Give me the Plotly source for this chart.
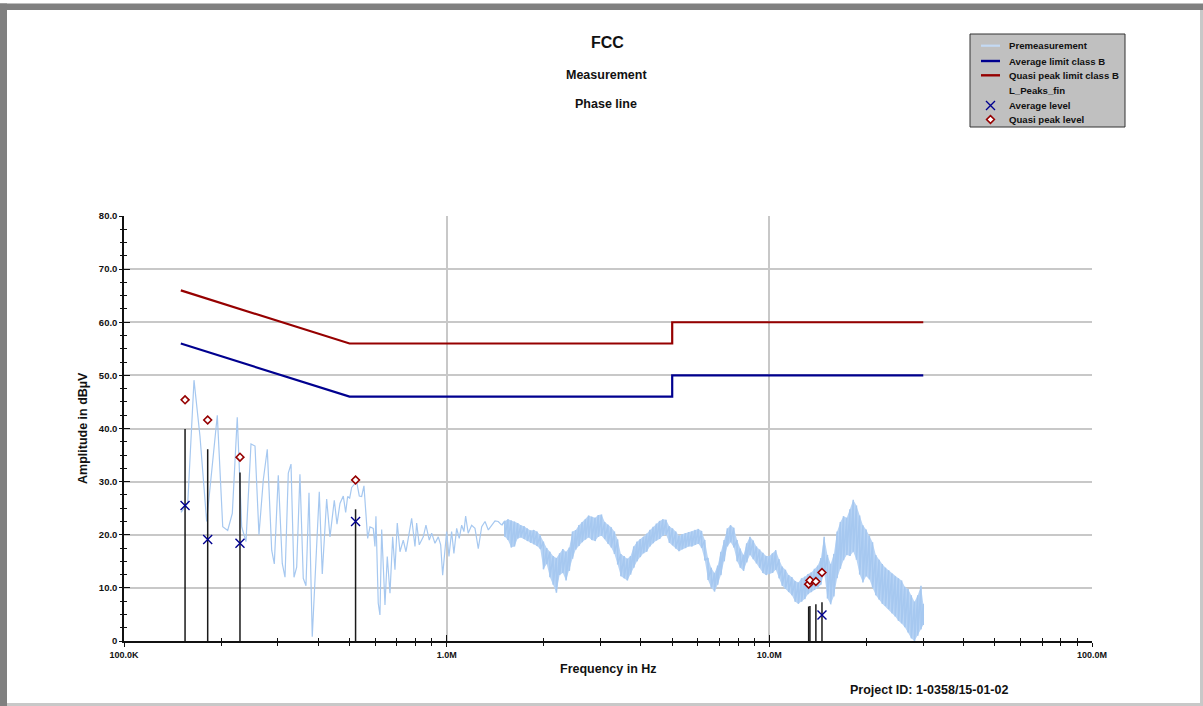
import plotly.graph_objects as go

# ---------------------------------------------------------------------------
# FCC class B conducted emission limits (frequency in MHz, level in dBuV)
limit_mhz = [0.15, 0.5, 5.0, 5.0, 30.0]
avg_limit = [56.0, 46.0, 46.0, 50.0, 50.0]
qp_limit = [66.0, 56.0, 56.0, 60.0, 60.0]

# Premeasurement, low band (kHz / dBuV), single peak-detector trace
scan_khz = [150.2, 157.6, 164.8, 172.0, 180.4, 187.0, 194.6, 202.3, 209.6, 216.6,
            224.4, 231.6, 238.8, 247.5, 254.7, 262.0, 270.2, 278.0, 286.9, 292.3,
            300.7, 309.4, 315.5, 323.0, 329.3, 336.4, 342.9, 351.0, 359.4, 366.4,
            374.4, 383.2, 390.7, 402.9, 411.6, 424.7, 434.9, 448.5, 457.2, 467.0,
            478.2, 486.4, 493.3, 500.5, 507.7, 516.0, 526.1, 536.0, 545.2, 554.2,
            569.1, 578.4, 592.2, 599.5, 603.7, 613.7, 621.2, 628.9, 643.9, 654.5,
            667.3, 680.3, 691.5, 702.9, 716.7, 733.6, 747.9, 760.3, 778.9, 797.6,
            807.2, 822.4, 846.3, 862.6, 883.3, 898.6, 919.9, 941.9, 958.1, 971.8,
            987.9, 1000.0, 1016.5, 1036.0, 1053.0, 1074.0, 1094.0, 1113.0, 1131.0, 1145.0,
            1166.0, 1195.0, 1224.0, 1253.0, 1284.0, 1315.0, 1346.0, 1379.0, 1412.0, 1445.0,
            1481.0]
scan_level = [24.2, 25.9, 49.1, 38.5, 22.5, 32.2, 42.5, 21.5, 20.8, 24.0,
              42.1, 21.5, 18.7, 37.1, 36.7, 20.0, 30.3, 36.1, 17.1, 14.5,
              31.2, 14.6, 12.0, 31.6, 33.3, 12.0, 13.9, 31.4, 11.8, 10.4,
              27.9, 0.8, 10.9, 28.1, 12.6, 26.7, 19.6, 26.5, 22.0, 25.9,
              27.3, 24.2, 27.2, 26.9, 28.9, 29.4, 30.0, 27.3, 27.2, 29.2,
              19.3, 21.5, 21.2, 17.8, 23.5, 7.1, 4.9, 21.0, 6.8, 15.9,
              9.0, 19.6, 13.4, 22.2, 16.8, 19.0, 16.8, 19.3, 23.1, 17.8,
              22.2, 18.1, 19.6, 21.8, 19.0, 20.3, 18.4, 19.6, 18.1, 12.4,
              17.4, 20.6, 15.9, 20.6, 16.5, 21.2, 19.3, 21.8, 20.6, 23.5,
              20.3, 21.8, 21.2, 17.4, 21.5, 22.5, 20.9, 21.8, 22.6, 22.5,
              21.8]

# Premeasurement, dense sweep above 1.5 MHz: max / min envelope per frequency step (MHz)
sweep_mhz = [1.514, 1.549, 1.585, 1.622, 1.660, 1.698, 1.738, 1.778, 1.820, 1.862,
             1.905, 1.950, 1.995, 2.042, 2.089, 2.138, 2.188, 2.239, 2.291, 2.344,
             2.399, 2.455, 2.512, 2.570, 2.630, 2.692, 2.754, 2.818, 2.884, 2.951,
             3.020, 3.090, 3.162, 3.236, 3.311, 3.388, 3.467, 3.548, 3.631, 3.715,
             3.802, 3.890, 3.981, 4.074, 4.169, 4.266, 4.365, 4.467, 4.571, 4.677,
             4.786, 4.898, 5.012, 5.129, 5.248, 5.370, 5.495, 5.623, 5.754, 5.888,
             6.026, 6.166, 6.310, 6.457, 6.607, 6.761, 6.918, 7.079, 7.244, 7.413,
             7.586, 7.762, 7.943, 8.128, 8.318, 8.511, 8.710, 8.913, 9.120, 9.333,
             9.550, 9.772, 10.00, 10.23, 10.47, 10.72, 10.96, 11.22, 11.48, 11.75,
             12.02, 12.30, 12.59, 12.88, 13.18, 13.49, 13.80, 14.13, 14.45, 14.79,
             15.14, 15.49, 15.85, 16.22, 16.60, 16.98, 17.38, 17.78, 18.20, 18.62,
             19.05, 19.50, 19.95, 20.42, 20.89, 21.38, 21.88, 22.39, 22.91, 23.44,
             23.99, 24.55, 25.12, 25.70, 26.30, 26.92, 27.54, 28.18, 28.84, 29.51,
             30.00]
sweep_max = [22.6, 22.9, 22.7, 22.5, 22.2, 21.8, 21.6, 21.2, 20.8, 20.9,
             20.6, 19.9, 18.7, 17.5, 16.8, 16.0, 15.6, 16.5, 17.3, 16.8,
             17.6, 20.6, 20.9, 21.8, 22.4, 22.9, 23.6, 23.4, 23.2, 23.7,
             23.8, 22.4, 21.9, 21.4, 20.6, 19.1, 16.4, 16.0, 15.5, 16.0,
             17.8, 18.7, 19.2, 19.6, 20.2, 20.9, 21.5, 22.1, 22.6, 22.9,
             22.8, 21.6, 21.2, 20.6, 19.8, 20.1, 20.3, 20.5, 20.6, 20.9,
             21.1, 20.7, 19.0, 15.6, 13.8, 12.8, 14.2, 16.8, 19.0, 21.2,
             21.8, 21.3, 19.0, 17.4, 16.2, 18.4, 19.6, 18.9, 17.8, 17.2,
             16.6, 16.0, 16.0, 16.5, 17.1, 15.4, 14.0, 13.4, 12.4, 12.0,
             11.3, 11.0, 11.8, 12.1, 12.6, 12.9, 13.6, 14.2, 15.6, 19.6,
             16.2, 14.5, 16.4, 20.6, 22.4, 23.5, 23.2, 24.8, 26.6, 25.5,
             23.6, 21.8, 21.0, 19.8, 18.6, 16.2, 15.3, 14.5, 13.8, 13.3,
             12.7, 12.2, 11.8, 11.4, 10.2, 9.8, 8.6, 7.4, 8.6, 10.4,
             7.0]
sweep_min = [19.6, 19.0, 17.6, 17.8, 19.3, 19.5, 19.2, 18.8, 18.5, 18.2,
             17.9, 17.3, 13.5, 14.5, 12.0, 10.6, 9.1, 12.4, 12.8, 11.4,
             13.2, 15.5, 17.2, 17.9, 18.6, 19.1, 19.5, 19.0, 18.8, 19.6,
             19.8, 19.2, 18.3, 17.6, 16.4, 14.4, 12.2, 11.8, 11.4, 12.5,
             13.8, 15.0, 15.8, 16.5, 16.8, 17.8, 18.4, 18.9, 19.2, 19.8,
             20.0, 18.5, 18.0, 17.4, 16.9, 17.3, 17.5, 17.8, 17.8, 18.1,
             18.3, 17.5, 15.2, 11.5, 10.0, 9.3, 10.6, 12.4, 15.0, 17.8,
             18.6, 17.6, 15.0, 13.8, 13.2, 14.8, 16.2, 15.4, 14.6, 13.8,
             12.8, 12.4, 12.6, 12.8, 13.4, 11.8, 10.4, 9.8, 9.2, 8.6,
             7.4, 7.0, 7.4, 7.9, 8.8, 9.2, 9.6, 10.0, 10.6, 12.8,
             8.0, 6.9, 8.4, 11.8, 13.6, 15.2, 16.2, 16.0, 16.8, 15.3,
             12.5, 11.0, 12.2, 11.6, 10.0, 8.6, 7.8, 7.0, 6.6, 6.0,
             5.2, 4.6, 3.8, 3.3, 2.6, 1.6, 0.5, 0.0, 1.0, 2.2,
             3.0]

# Final measurement (L_Peaks_fin) with quasi-peak and average detector results
peak_mhz = [0.1546, 0.1817, 0.2288, 0.522, 13.24, 13.36, 13.94, 14.56]
peak_level = [39.9, 36.1, 31.7, 24.8, 6.5, 6.6, 6.9, 7.3]
qp_level = [45.4, 41.6, 34.6, 30.3, 10.7, 11.4, 11.2, 12.9]
avg_level = [25.5, 19.1, 18.4, 22.5, None, None, None, 4.9]

# Axis labelling
y_ticks = [0, 10, 20, 30, 40, 50, 60, 70, 80]
y_ticktext = ["0", "10.0", "20.0", "30.0", "40.0", "50.0", "60.0", "70.0", "80.0"]
x_ticks = [1e5, 1e6, 1e7, 1e8]
x_ticktext = ["100.0K", "1.0M", "10.0M", "100.0M"]
x_grid = [1e6, 1e7]

# ---------------------------------------------------------------------------
W, H = 1203, 706
FONT = "Arial, 'Liberation Sans', sans-serif"
BLUE_TRACE = "#a6c8f0"
BLUE_FILL = "#b8d4f5"
AVG_COLOR = "#00008f"
QP_COLOR = "#960000"


def px(x):
    return x / W


def py(y):
    return 1 - y / H


MHZ = 1e6
fig = go.Figure()

# Premeasurement: low band as a line
fig.add_trace(go.Scatter(
    x=[f * 1e3 for f in scan_khz], y=scan_level, mode="lines",
    line=dict(color=BLUE_TRACE, width=1.2), hoverinfo="skip", showlegend=False))

# Dense sweep: lightly filled max/min envelope plus a zig-zag through each step
env_x = [f * MHZ for f in sweep_mhz] + [f * MHZ for f in reversed(sweep_mhz)]
env_y = list(sweep_max) + list(reversed(sweep_min))
fig.add_trace(go.Scatter(
    x=env_x, y=env_y, mode="lines", fill="toself", fillcolor=BLUE_FILL,
    line=dict(width=0, color=BLUE_FILL), hoverinfo="skip", showlegend=False))

band_x, band_y = [scan_khz[-1] * 1e3], [scan_level[-1]]
for f, hi, lo in zip(sweep_mhz, sweep_max, sweep_min):
    band_x += [f * MHZ, f * MHZ]
    band_y += [hi, lo]
fig.add_trace(go.Scatter(
    x=band_x, y=band_y, mode="lines",
    line=dict(color=BLUE_TRACE, width=1.5), hoverinfo="skip", showlegend=False))

# Limit lines
fig.add_trace(go.Scatter(
    x=[f * MHZ for f in limit_mhz], y=avg_limit, mode="lines",
    line=dict(color=AVG_COLOR, width=2.2), showlegend=False))
fig.add_trace(go.Scatter(
    x=[f * MHZ for f in limit_mhz], y=qp_limit, mode="lines",
    line=dict(color=QP_COLOR, width=2.2), showlegend=False))

# Final peaks as sticks
stick_x, stick_y = [], []
for f, v in zip(peak_mhz, peak_level):
    stick_x += [f * MHZ, f * MHZ, None]
    stick_y += [0, v, None]
fig.add_trace(go.Scatter(
    x=stick_x, y=stick_y, mode="lines",
    line=dict(color="#1a1a1a", width=1.5), showlegend=False))

# Detector results
fig.add_trace(go.Scatter(
    x=[f * MHZ for f in peak_mhz], y=avg_level, mode="markers",
    marker=dict(symbol="x-thin", size=9, line=dict(color=AVG_COLOR, width=1.4)),
    showlegend=False))
fig.add_trace(go.Scatter(
    x=[f * MHZ for f in peak_mhz], y=qp_level, mode="markers",
    marker=dict(symbol="diamond", size=6, color="white",
                line=dict(color=QP_COLOR, width=1.6)),
    showlegend=False))

# Legend box drawn on its own small unit axes
LEG_X0, LEG_X1, LEG_Y0, LEG_Y1 = 970, 1125, 34, 127
leg_rows = [45.7, 61.0, 75.3, 90.0, 105.5, 119.5]
leg_names = ["Premeasurement", "Average limit class B", "Quasi peak limit class B",
             "L_Peaks_fin", "Average level", "Quasi peak level"]


def lx(x):
    return (x - LEG_X0) / (LEG_X1 - LEG_X0)


def ly(y):
    return (LEG_Y1 - y) / (LEG_Y1 - LEG_Y0)


fig.add_trace(go.Scatter(
    x=[lx(981), lx(1000)], y=[ly(leg_rows[0])] * 2, mode="lines",
    line=dict(color="#c4daf4", width=2.2), xaxis="x2", yaxis="y2", showlegend=False))
fig.add_trace(go.Scatter(
    x=[lx(981), lx(1000)], y=[ly(leg_rows[1])] * 2, mode="lines",
    line=dict(color=AVG_COLOR, width=2.4), xaxis="x2", yaxis="y2", showlegend=False))
fig.add_trace(go.Scatter(
    x=[lx(981), lx(1000)], y=[ly(leg_rows[2])] * 2, mode="lines",
    line=dict(color=QP_COLOR, width=2.4), xaxis="x2", yaxis="y2", showlegend=False))
fig.add_trace(go.Scatter(
    x=[lx(990.5)], y=[ly(leg_rows[4])], mode="markers",
    marker=dict(symbol="x-thin", size=9, line=dict(color=AVG_COLOR, width=1.4)),
    xaxis="x2", yaxis="y2", showlegend=False))
fig.add_trace(go.Scatter(
    x=[lx(990.5)], y=[ly(leg_rows[5])], mode="markers",
    marker=dict(symbol="diamond", size=6, color="white", line=dict(color=QP_COLOR, width=1.6)),
    xaxis="x2", yaxis="y2", showlegend=False))

annotations = []
for name, row in zip(leg_names, leg_rows):
    annotations.append(dict(
        x=px(1007), y=py(row), xref="paper", yref="paper", xanchor="left", yanchor="middle",
        text="<b>%s</b>" % name, showarrow=False,
        font=dict(family=FONT, size=9.6, color="#111")))


def label(text, x, y, size, angle=0):
    annotations.append(dict(
        x=px(x), y=py(y), xref="paper", yref="paper", xanchor="center", yanchor="middle",
        text="<b>%s</b>" % text, showarrow=False, textangle=angle,
        font=dict(family=FONT, size=size, color="#111")))


label("FCC", 607, 42, 16)
label("Measurement", 606, 75, 12.5)
label("Phase line", 606, 104, 12.5)
label("Frequency in Hz", 608, 669, 12.5)
label("Amplitude in dBµV", 83, 428, 12.5, angle=-90)
label("Project ID: 1-0358/15-01-02", 929, 690, 12.5)

# Window frame
shapes = [
    dict(type="rect", xref="paper", yref="paper", x0=px(LEG_X0), x1=px(LEG_X1),
         y0=py(LEG_Y1), y1=py(LEG_Y0), fillcolor="#c0c0c0",
         line=dict(color="#333", width=1), layer="below"),
    dict(type="rect", xref="paper", yref="paper", x0=0, x1=1, y0=py(10), y1=py(3.5),
         fillcolor="#808080", line=dict(width=0)),
    dict(type="rect", xref="paper", yref="paper", x0=0, x1=px(7), y0=0, y1=py(3.5),
         fillcolor="#808080", line=dict(width=0)),
    dict(type="rect", xref="paper", yref="paper", x0=px(1200), x1=1, y0=0, y1=py(10),
         fillcolor="#c8c8c8", line=dict(width=0)),
    dict(type="rect", xref="paper", yref="paper", x0=px(7), x1=1, y0=0, y1=py(703),
         fillcolor="#c8c8c8", line=dict(width=0)),
]

x_minor = [m * 10 ** e for e in (5, 6, 7) for m in range(2, 10)]
y_minor = [v + d for v in range(0, 80, 10) for d in (2.5, 5.0, 7.5)]
x_dom = [px(124), px(1092)]
y_dom = [py(641), py(216)]

common_x = dict(type="log", range=[5, 8], domain=x_dom, fixedrange=True,
                automargin=False, zeroline=False)
common_y = dict(range=[0, 80], domain=y_dom, fixedrange=True,
                automargin=False, zeroline=False)

fig.update_layout(
    template="none",
    width=W, height=H, margin=dict(l=0, r=0, t=0, b=0, pad=0, autoexpand=False),
    paper_bgcolor="white", plot_bgcolor="rgba(0,0,0,0)", showlegend=False,
    xaxis=dict(**common_x, tickvals=x_ticks, ticktext=x_ticktext, showgrid=False,
               showline=True, linecolor="#111", linewidth=1.5,
               ticks="outside", ticklen=4, tickcolor="#111", tickwidth=1.3,
               tickfont=dict(family=FONT, size=9, color="#111", weight="bold"),
               minor=dict(tickvals=x_minor, ticks="outside", ticklen=3,
                          tickcolor="#111", tickwidth=1.2, showgrid=False)),
    yaxis=dict(**common_y, tickvals=y_ticks, ticktext=y_ticktext, showgrid=True,
               gridcolor="#c8c8c8", gridwidth=1.5, showline=True, linecolor="#111",
               linewidth=1.5, ticks="outside", ticklen=3, tickcolor="#111", tickwidth=1.3,
               tickfont=dict(family=FONT, size=9.5, color="#111", weight="bold"),
               minor=dict(tickvals=y_minor, ticks="outside", ticklen=2,
                          tickcolor="#111", tickwidth=1.2, showgrid=False)),
    xaxis3=dict(**common_x, tickvals=x_ticks, overlaying="x", anchor="y",
                showticklabels=False, showgrid=False, showline=False,
                ticks="inside", ticklen=6, tickcolor="#111", tickwidth=1.3,
                minor=dict(tickvals=x_minor, ticks="inside", ticklen=3,
                           tickcolor="#111", tickwidth=1.2, showgrid=False)),
    xaxis4=dict(**common_x, tickvals=x_grid, overlaying="x", anchor="y",
                showticklabels=False, ticks="", showline=False,
                showgrid=True, gridcolor="#c8c8c8", gridwidth=1.5),
    yaxis3=dict(**common_y, tickvals=y_ticks, overlaying="y", anchor="x", side="left",
                showticklabels=False, showgrid=False, showline=False,
                ticks="inside", ticklen=6, tickcolor="#111", tickwidth=1.3,
                minor=dict(tickvals=y_minor, ticks="inside", ticklen=3,
                           tickcolor="#111", tickwidth=1.2, showgrid=False)),
    xaxis2=dict(domain=[px(LEG_X0), px(LEG_X1)], range=[0, 1], visible=False,
                anchor="y2", fixedrange=True, automargin=False),
    yaxis2=dict(domain=[py(LEG_Y1), py(LEG_Y0)], range=[0, 1], visible=False,
                anchor="x2", fixedrange=True, automargin=False),
    annotations=annotations,
    shapes=shapes,
)

# keep the overlay tick/grid axes alive with empty traces
fig.add_trace(go.Scatter(x=[], y=[], xaxis="x3", yaxis="y3", showlegend=False))
fig.add_trace(go.Scatter(x=[], y=[], xaxis="x4", yaxis="y", showlegend=False))

fig.write_html("out.html", config={"displayModeBar": False})
